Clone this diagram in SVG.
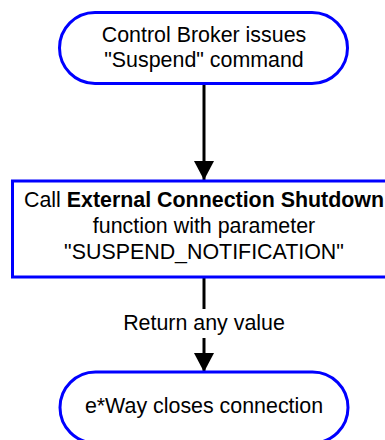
<svg xmlns="http://www.w3.org/2000/svg" width="385" height="440" viewBox="0 0 385 440">
<style>
.node{fill:#fff;stroke:#0000ff;stroke-width:3}
.t{font-family:"Liberation Sans",Arial,sans-serif;font-size:21.4px;fill:#000;text-anchor:middle}
.b{font-weight:bold}
.c{stroke:#000;stroke-width:3;fill:none}
</style>
<defs>
<marker id="ah" markerUnits="userSpaceOnUse" markerWidth="20" markerHeight="20" refX="19" refY="10" orient="auto">
<path d="M0,0 L19,10 L0,20 Z" fill="#000"/>
</marker>
</defs>
<g id="connectors">
<line class="c" x1="204" y1="84" x2="204" y2="180" marker-end="url(#ah)"/>
<line class="c" x1="204" y1="278" x2="204" y2="309"/>
<line class="c" x1="204" y1="338" x2="204" y2="372" marker-end="url(#ah)"/>
<text class="t" x="204" y="330">Return any value</text>
</g>
<g id="start">
<rect class="node" x="59.5" y="12.5" width="288" height="71" rx="35.5" ry="35.5"/>
<text class="t" x="204" y="42">Control Broker issues</text>
<text class="t" x="204" y="67">"Suspend" command</text>
</g>
<g id="call">
<rect class="node" x="12.5" y="181" width="384" height="96"/>
<text class="t" x="204" y="207">Call <tspan class="b">External Connection Shutdown</tspan></text>
<text class="t" x="204" y="233">function with parameter</text>
<text class="t" x="204" y="259">"SUSPEND_NOTIFICATION"</text>
</g>
<g id="end">
<rect class="node" x="60" y="372" width="288" height="71" rx="35.5" ry="35.5"/>
<text class="t" x="204" y="413">e*Way closes connection</text>
</g>
</svg>
